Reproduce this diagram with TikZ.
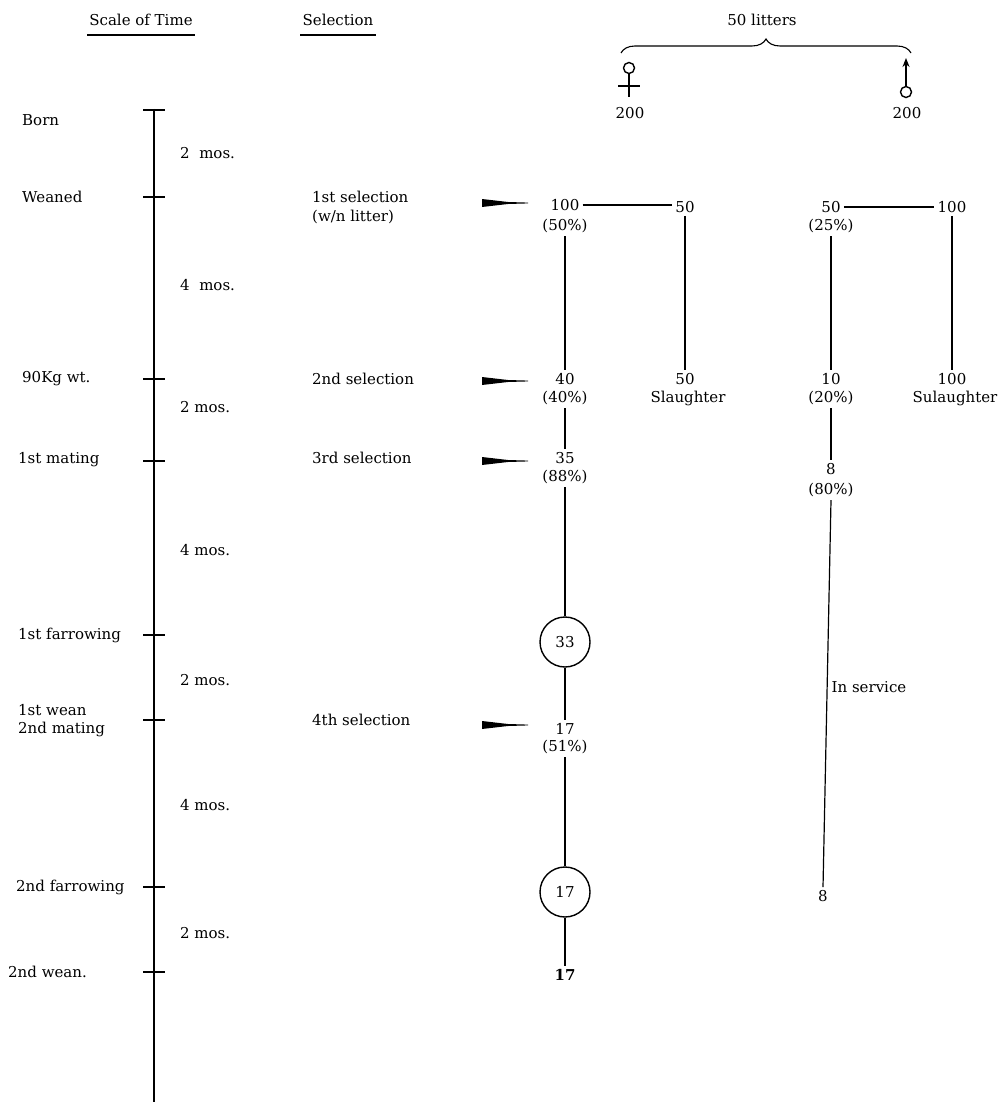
\documentclass[tikz,border=0pt]{standalone}
\usepackage{fontspec}
\setmainfont{DejaVu Serif}
\usetikzlibrary{decorations.pathreplacing,calc,arrows.meta}
\newcommand\wedgemark[1]{\fill[black] (#1) ++(-46,-4) -- ++(0,8) -- ++(26,-3) -- ++(20,-0.6) -- ++(0,-0.8) -- ++(-20,-0.6) -- cycle;}
\begin{document}
\begin{tikzpicture}[x=1pt,y=-1pt,
  lbl/.style={font=\fontsize{15}{18}\selectfont, inner sep=2pt},
  lft/.style={lbl, anchor=west},
  num/.style={lbl, inner sep=3pt},
  bnum/.style={num, font=\fontsize{15}{18}\selectfont\bfseries},
  ring/.style={draw, circle, line width=1.4pt, minimum size=50pt, inner sep=0pt, font=\fontsize{15}{18}\selectfont},
  conn/.style={line width=1.2pt},
  axis/.style={line width=1.8pt},
  tickmark/.style={line width=1.1pt}]
\useasboundingbox (0,0) rectangle (1002,1102);

% headers
\node[lbl] (sot) at (141,20) {Scale of Time};
\node[lbl] (sel) at (338,20) {Selection};
\draw[conn] ([yshift=-7pt]sot.south west) -- ([yshift=-7pt]sot.south east);
\draw[conn] ([yshift=-7pt]sel.south west) -- ([yshift=-7pt]sel.south east);
\node[lbl] (lit) at (762,20) {50 litters};
\coordinate (bl) at (621,53);
\coordinate (br) at (911,53);
\draw[line width=1.1pt, decorate, decoration={brace, amplitude=14pt}] (bl) -- (br);

% sex symbols
\node[draw, circle, minimum size=11pt, inner sep=0pt, line width=1.4pt] (fcirc) at (629,68) {};
\coordinate (fbot) at (629,97);
\coordinate (fcl) at (618,86);
\coordinate (fcr) at (640,86);
\draw[line width=1.6pt] (fcirc.south) -- (fbot);
\draw[line width=1.6pt] (fcl) -- (fcr);
\node[draw, circle, minimum size=11pt, inner sep=0pt, line width=1.4pt] (mcirc) at (906,92) {};
\coordinate (mtip) at (906,58);
\draw[line width=1.6pt, -{Stealth[length=9pt,width=7pt]}] (mcirc.north) -- (mtip);
\node[num] (f200) at (630,113) {200};
\node[num] (m200) at (907,113) {200};

% time axis
\coordinate (ttop) at (154,109);
\coordinate (tbot) at (154,1102);
\draw[axis] (ttop) -- (tbot);
\foreach \y in {110,197,379,461,635,720,887,972}
  \draw[tickmark] (143,\y) -- (165,\y);

\node[lft] (born) at (20,120) {Born};
\node[lft] (wean) at (20,197) {Weaned};
\node[lft] (kg) at (20,379) {90Kg wt.};
\node[lft] (m1) at (16,460) {1st mating};
\node[lft] (f1) at (16,635) {1st farrowing};
\node[lft] (w1) at (16,710) {1st wean};
\node[lft] (m2) at (16,729) {2nd\ mating};
\node[lft] (f2) at (14,887) {2nd\ farrowing};
\node[lft] (w2) at (6,972) {2nd wean.};

\node[lft] (d1) at (178,153) {2\ \ mos.};
\node[lft] (d2) at (178,285) {4\ \ mos.};
\node[lft] (d3) at (178,407) {2 mos.};
\node[lft] (d4) at (178,550) {4 mos.};
\node[lft] (d5) at (178,680) {2 mos.};
\node[lft] (d6) at (178,805) {4 mos.};
\node[lft] (d7) at (178,933) {2 mos.};

% selection labels
\node[lft] (s1) at (310,197) {1st selection};
\node[lft] (s1b) at (310,217) {(w/n litter)};
\node[lft] (s2) at (310,379) {2nd selection};
\node[lft] (s3) at (310,458) {3rd selection};
\node[lft] (s4) at (310,720) {4th selection};

\coordinate (a1) at (528,203);
\coordinate (a2) at (528,381);
\coordinate (a3) at (528,461);
\coordinate (a4) at (528,725);
\wedgemark{a1}
\wedgemark{a2}
\wedgemark{a3}
\wedgemark{a4}

% female column
\node[num] (f100) at (565,205) {100};
\node[num] (f50p) at (565,226) {(50\%)};
\node[num] (fs50) at (685,207) {50};
\node[num] (fs50b) at (685,379) {50};
\node[num] (fsl) at (688,398) {Slaughter};
\node[num] (f40) at (565,379) {40};
\node[num] (f40p) at (565,398) {(40\%)};
\node[num] (f35) at (565,458) {35};
\node[num] (f88) at (565,477) {(88\%)};
\node[ring] (c33) at (565,642) {33};
\node[num] (f17) at (565,729) {17};
\node[num] (f51) at (565,747) {(51\%)};
\node[ring] (c17) at (565,892) {17};
\node[bnum] (f17b) at (565,975) {17};

\draw[conn] (f100.east) -- (f100.east -| fs50.west);
\draw[conn] (fs50.south) -- (fs50b.north);
\draw[conn] (f50p.south) -- (f40.north);
\draw[conn] (f40p.south) -- (f35.north);
\draw[conn] (f88.south) -- (c33.north);
\draw[conn] (c33.south) -- (f17.north);
\draw[conn] (f51.south) -- (c17.north);
\draw[conn] (c17.south) -- (f17b.north);

% male column
\node[num] (m50) at (831,207) {50};
\node[num] (m25) at (831,226) {(25\%)};
\node[num] (m100) at (952,207) {100};
\node[num] (m10) at (831,379) {10};
\node[num] (m20) at (831,398) {(20\%)};
\node[num] (m100b) at (952,379) {100};
\node[num] (msl) at (955,398) {Sulaughter};
\node[num] (m8) at (831,469) {8};
\node[num] (m80) at (831,490) {(80\%)};
\node[num] (m8b) at (823,896) {8};
\node[lbl] (serv) at (869,687) {In service};

\draw[conn] (m50.east) -- (m50.east -| m100.west);
\draw[conn] (m100.south) -- (m100b.north);
\draw[conn] (m25.south) -- (m10.north);
\draw[conn] (m20.south) -- (m8.north);
\draw[conn] (m80.south) -- (m8b.north);
\end{tikzpicture}
\end{document}
